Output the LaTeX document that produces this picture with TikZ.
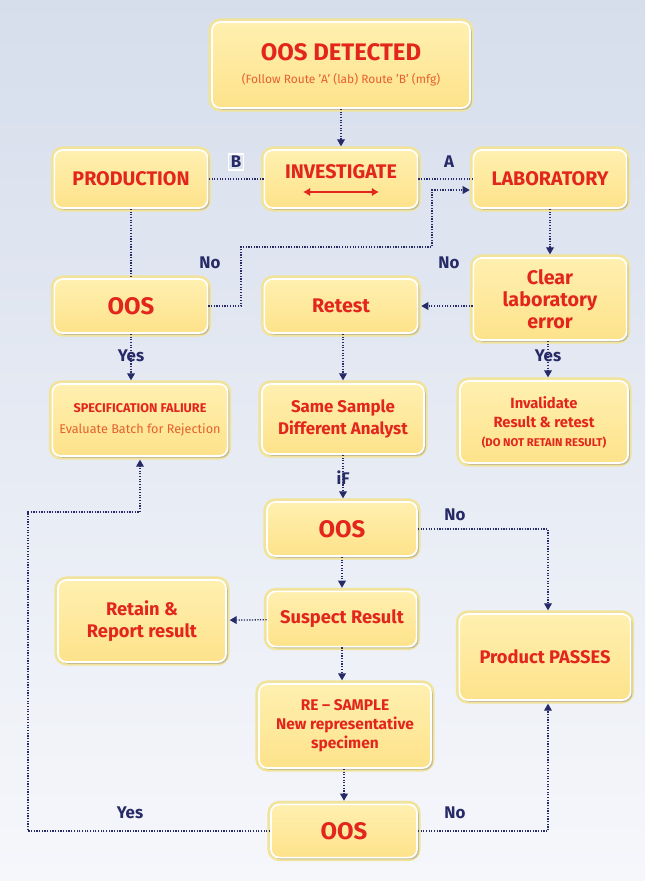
\documentclass[tikz,border=0pt]{standalone}
\usepackage{fontspec}
\setmainfont{Fira Sans}
\usetikzlibrary{shadows,arrows.meta,positioning}
\definecolor{bgtop}{HTML}{D6DEEC}
\definecolor{bgbot}{HTML}{F6F7FB}
\definecolor{boxtop}{HTML}{FFF0B0}
\definecolor{boxbot}{HTML}{FDE28A}
\definecolor{glow}{HTML}{F1E39A}
\definecolor{oosred}{HTML}{E3261D}
\definecolor{subred}{HTML}{E8602E}
\definecolor{navy}{HTML}{262A66}
\begin{document}
\begin{tikzpicture}[
    x=0.025cm, y=-0.025cm,
    kasten/.style={rectangle, rounded corners=6pt, draw=white, line width=1.2pt,
      top color=boxtop, bottom color=boxbot,
      preaction={draw=glow, line width=5pt},
      drop shadow={shadow xshift=1.3pt, shadow yshift=-1.3pt, fill=black!40},
      text=oosred, font=\bfseries, align=center, inner sep=2pt},
    linie/.style={draw=navy, densely dotted, line width=0.9pt},
    pfeil/.style={linie, shorten >=2pt, -{Triangle[width=5.5pt,length=5pt]}},
    antw/.style={text=navy, font=\bfseries\fontsize{12}{12}\selectfont, inner sep=1pt}
  ]
  % background
  \shade[top color=bgtop, bottom color=bgbot] (0,0) rectangle (645,881);
  \useasboundingbox (0,0) rectangle (645,881);

  % boxes
  \node[kasten, minimum width=6.45cm, minimum height=2.15cm] (detected) at (341,65)
    {{\fontsize{17}{19}\selectfont OOS DETECTED}\\[4pt]
     {\mdseries\fontsize{8.5}{10}\selectfont\color{subred}(Follow Route 'A' (lab) Route 'B' (mfg)}};
  \node[kasten, minimum width=3.83cm, minimum height=1.45cm, font=\bfseries\fontsize{14}{16}\selectfont] (prod) at (131,179) {PRODUCTION};
  \node[kasten, minimum width=3.83cm, minimum height=1.45cm, font=\bfseries\fontsize{14}{16}\selectfont, text depth=10pt] (inv) at (341,179) {INVESTIGATE};
  \node[kasten, minimum width=3.83cm, minimum height=1.45cm, font=\bfseries\fontsize{14}{16}\selectfont] (lab) at (550,179) {LABORATORY};
  \node[kasten, minimum width=3.83cm, minimum height=1.35cm, font=\bfseries\fontsize{17}{19}\selectfont] (oosl) at (131,306) {OOS};
  \node[kasten, minimum width=3.83cm, minimum height=1.35cm, font=\bfseries\fontsize{14}{16}\selectfont] (retest) at (341,306) {Retest};
  \node[kasten, minimum width=3.83cm, minimum height=2.05cm, font=\bfseries\fontsize{14}{15.5}\selectfont] (clear) at (550,299) {Clear\\laboratory\\error};
  \node[kasten, minimum width=4.38cm, minimum height=1.8cm] (spec) at (140,420)
    {{\fontsize{9}{11}\selectfont SPECIFICATION FALIURE}\\[3pt]
     {\mdseries\fontsize{9}{11}\selectfont\color{subred}Evaluate Batch for Rejection}};
  \node[kasten, minimum width=4.05cm, minimum height=1.75cm, font=\bfseries\fontsize{12}{15}\selectfont] (same) at (343,419) {Same Sample\\Different Analyst};
  \node[kasten, minimum width=4.2cm, minimum height=2.05cm, font=\bfseries\fontsize{10.5}{13.5}\selectfont] (inval) at (544,422)
    {Invalidate\\Result \& retest\\\fontsize{8}{11}\selectfont (DO NOT RETAIN RESULT)};
  \node[kasten, minimum width=3.75cm, minimum height=1.35cm, font=\bfseries\fontsize{17}{19}\selectfont] (oosm) at (342,529) {OOS};
  \node[kasten, minimum width=4.2cm, minimum height=2.05cm, font=\bfseries\fontsize{13}{16}\selectfont] (retain) at (142,621) {Retain \&\\Report result};
  \node[kasten, minimum width=3.73cm, minimum height=1.38cm, font=\bfseries\fontsize{13}{15}\selectfont] (suspect) at (342,619) {Suspect Result};
  \node[kasten, minimum width=4.28cm, minimum height=2.15cm, font=\bfseries\fontsize{13}{15}\selectfont] (passes) at (545,657) {Product PASSES};
  \node[kasten, minimum width=4.3cm, minimum height=2.1cm, font=\bfseries\fontsize{11}{13.5}\selectfont] (resample) at (345,726) {RE -- SAMPLE\\New representative\\specimen};
  \node[kasten, minimum width=3.65cm, minimum height=1.33cm, font=\bfseries\fontsize{17}{19}\selectfont] (oosb) at (344,831) {OOS};

  % double arrow in INVESTIGATE
  \draw[oosred, line width=1.6pt, {Latex[length=5pt,width=6pt]}-{Latex[length=5pt,width=6pt]}]
    ([shift={(-38,13)}]inv.center) -- ([shift={(38,13)}]inv.center);

  % connectors
  \draw[pfeil] (detected) -- (inv);
  \draw[linie] (inv) -- (prod);
  \draw[linie] (inv) -- (lab);
  \draw[linie] (prod) -- (oosl);
  \draw[pfeil] (oosl.east) -- (241,306) -- (241,247) -- (432,247) -- (432,190) -- ([shift={(0,11)}]lab.west);
  \draw[pfeil] (lab.south -| clear.north) -- (clear.north);
  \draw[pfeil] (clear.west |- retest.east) -- (retest.east);
  \draw[pfeil] (clear.south -| 548,0) -- (inval.north -| 548,0);
  \draw[pfeil] (oosl) -- (oosl.south |- spec.north);
  \draw[pfeil] (retest.south -| same.north) -- (same.north);
  \draw[pfeil] (same) -- (same.south |- oosm.north);
  \draw[pfeil] (oosm.east) -- (548,529) -- (548,0 |- passes.north);
  \draw[pfeil] (oosm) -- (suspect);
  \draw[pfeil] (suspect) -- (retain);
  \draw[pfeil] (suspect.south) -- (suspect.south |- resample.north);
  \draw[pfeil] (resample.south -| oosb.north) -- (oosb.north);
  \draw[pfeil] (oosb.east) -- (548,831) -- (548,0 |- passes.south);
  \draw[pfeil] (oosb.west) -- (28,831) -- (28,512) -- (140,512) -- (spec.south);

  % labels
  \node[antw, draw=white, fill=bgtop!80!white, line width=0.8pt, inner sep=1.5pt] (lblb) at (236,162) {B};
  \node[antw] (lbla) at (449,162) {A};
  \node[antw] (lblno1) at (210,263) {No};
  \node[antw] (lblno2) at (449,263) {No};
  \node[antw] (lblyes1) at (131,356) {Yes};
  \node[antw] (lblyes2) at (548,356) {Yes};
  \node[antw] (lblif) at (343,478) {iF};
  \node[antw] (lblno3) at (455,515) {No};
  \node[antw] (lblyes3) at (130,813) {Yes};
  \node[antw] (lblno4) at (455,813) {No};
\end{tikzpicture}
\end{document}
